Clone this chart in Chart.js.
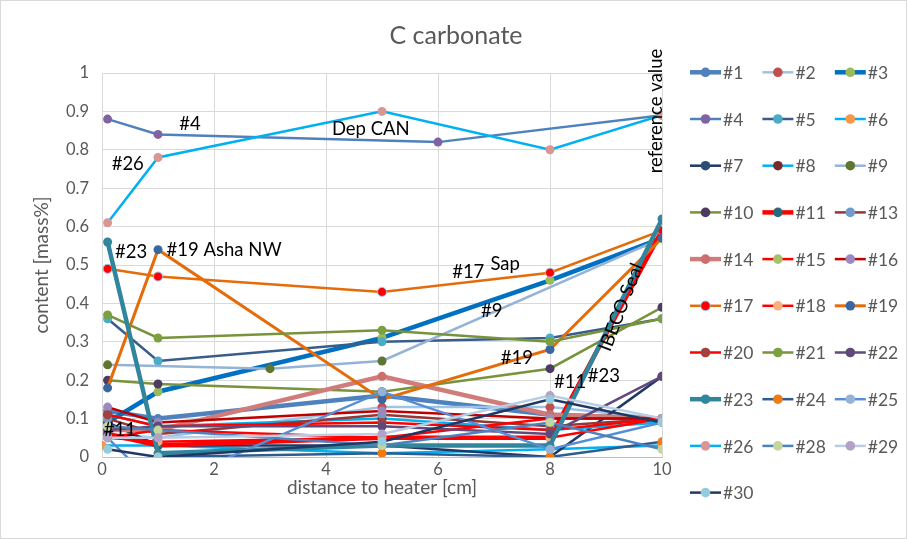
<!DOCTYPE html>
<html>
<head>
<meta charset="utf-8">
<title>C carbonate</title>
<script src="https://cdn.jsdelivr.net/npm/chart.js@4.4.1/dist/chart.umd.min.js"></script>
<style>
  html, body { margin: 0; padding: 0; background: #ffffff; }
  canvas { display: block; }
</style>
</head>
<body>
<canvas id="chart" width="907" height="539"></canvas>
<script>
// Sampling distances from the heater [cm]
const positions = [0, 0.1, 1, 3, 5, 6, 8, 10];

// Carbonate content [mass%] per sample set, one value per position (null = not measured)
const s1  = [null, 0.12, 0.10, null, 0.16, null, 0.11, 0.10];
const s2  = [null, 0.06, 0.05, null, 0.13, null, 0.13, 0.10];
const s3  = [null, 0.09, 0.17, null, 0.31, null, 0.46, 0.57];
const s4  = [null, 0.88, 0.84, null, null, 0.82, null, 0.89];
const s5  = [null, 0.36, 0.25, null, 0.30, null, 0.31, 0.36];
const s6  = [0.03, null, 0.03, null, 0.01, null, 0.02, 0.03];
const s7  = [null, 0.09, 0.03, null, 0.03, null, 0.00, 0.21];
const s8  = [null, 0.11, 0.08, null, 0.10, null, 0.07, 0.09];
const s9  = [null, 0.24, null, 0.23, 0.25, null, null, 0.57];
const s10 = [null, 0.20, 0.19, null, 0.17, null, 0.23, 0.39];
const s11 = [null, 0.06, 0.03, null, 0.05, null, 0.05, 0.59];
const s13 = [null, 0.10, 0.06, null, 0.11, null, 0.08, 0.10];
const s14 = [null, 0.07, 0.07, null, 0.21, null, 0.11, 0.10];
const s15 = [null, 0.05, 0.07, null, 0.05, null, 0.10, 0.10];
const s16 = [null, 0.13, 0.09, null, 0.12, null, 0.10, 0.10];
const s17 = [null, 0.49, 0.47, null, 0.43, null, 0.48, 0.59];
const s18 = [null, 0.05, 0.04, null, 0.05, null, 0.05, 0.10];
const s19 = [null, 0.18, 0.54, null, 0.15, null, 0.28, 0.57];
const s20 = [null, 0.11, 0.08, null, 0.09, null, 0.07, 0.10];
const s21 = [null, 0.37, 0.31, null, 0.33, null, 0.30, 0.36];
const s22 = [null, 0.07, 0.08, null, 0.08, null, 0.06, 0.21];
const s23 = [null, 0.56, 0.01, null, 0.03, null, 0.03, 0.62];
const s24 = [null, null, 0.00, null, 0.01, null, 0.00, 0.04];
const s25 = [null, 0.05, -0.08, null, 0.17, null, 0.02, 0.09];
const s26 = [null, 0.61, 0.78, null, 0.90, null, 0.80, 0.89];
const s28 = [null, 0.08, 0.07, null, 0.03, null, 0.09, 0.02];
const s29 = [null, 0.05, 0.05, null, 0.06, null, 0.16, 0.10];
const s30 = [null, 0.02, 0.00, null, 0.04, null, 0.15, 0.09];

const seriesNames = ['#1','#2','#3','#4','#5','#6','#7','#8','#9','#10','#11','#13','#14','#15',
  '#16','#17','#18','#19','#20','#21','#22','#23','#24','#25','#26','#28','#29','#30'];
const seriesValues = [s1,s2,s3,s4,s5,s6,s7,s8,s9,s10,s11,s13,s14,s15,
  s16,s17,s18,s19,s20,s21,s22,s23,s24,s25,s26,s28,s29,s30];

// Line colour, marker colour, line width (and optional marker outline)
const styles = [
  { line: '#4F81BD', mark: '#4F81BD', w: 4.5 },
  { line: '#9DC3E6', mark: '#C0504D', w: 2.5 },
  { line: '#0070C0', mark: '#9BBB59', w: 4.5 },
  { line: '#4F81BD', mark: '#8064A2', w: 2.5 },
  { line: '#385D8A', mark: '#4BACC6', w: 2.5 },
  { line: '#00B0F0', mark: '#F79646', w: 2.5 },
  { line: '#1F3864', mark: '#2C4D75', w: 2.5 },
  { line: '#00B0F0', mark: '#772C2A', w: 2.5 },
  { line: '#95B3D7', mark: '#5F7530', w: 2.5 },
  { line: '#77933C', mark: '#4D3B62', w: 2.5 },
  { line: '#FF0000', mark: '#276A7C', w: 4.5 },
  { line: '#953735', mark: '#729ACA', w: 2.5 },
  { line: '#D07C7A', mark: '#CD6F6C', w: 4.5 },
  { line: '#FF0000', mark: '#A5C26A', w: 2.5 },
  { line: '#C00000', mark: '#9B89C0', w: 2.5 },
  { line: '#E46C0A', mark: '#FF0000', w: 2.5, edge: '#9DC3E6' },
  { line: '#FF0000', mark: '#FAB07A', w: 2.5 },
  { line: '#E46C0A', mark: '#3A67A0', w: 3 },
  { line: '#FF0000', mark: '#A5403C', w: 2.5 },
  { line: '#77933C', mark: '#7AA03F', w: 2.5 },
  { line: '#604A7B', mark: '#5F497A', w: 2.5 },
  { line: '#31859C', mark: '#31859C', w: 4.5 },
  { line: '#2F5C8F', mark: '#F27A12', w: 2.5 },
  { line: '#558ED5', mark: '#95B3D7', w: 2.5 },
  { line: '#00B0F0', mark: '#DA9694', w: 2.5 },
  { line: '#4F81BD', mark: '#C3D69B', w: 2.5 },
  { line: '#B9CDE5', mark: '#B3A2C7', w: 2.5 },
  { line: '#1F3864', mark: '#93CDDD', w: 2.5 }
];

// Free text placed inside the plot (data coordinates)
const notes = [
  { text: '#4', x: 1.57, y: 0.867 },
  { text: 'Dep CAN', x: 4.80, y: 0.854 },
  { text: '#26', x: 0.46, y: 0.763 },
  { text: '#23', x: 0.52, y: 0.534 },
  { text: '#19 Asha NW', x: 2.18, y: 0.539 },
  { text: '#17', x: 6.54, y: 0.482 },
  { text: 'Sap', x: 7.20, y: 0.503 },
  { text: '#9', x: 6.96, y: 0.380 },
  { text: '#19', x: 7.41, y: 0.258 },
  { text: '#11', x: 8.36, y: 0.195 },
  { text: '#23', x: 8.96, y: 0.211 },
  { text: '#11', x: 0.32, y: 0.070 },
  { text: 'reference value', x: 9.89, y: 0.901, rot: -90 },
  { text: 'IBECO Seal', x: 9.27, y: 0.390, rot: -69 }
];

const FONT = 'Lato, "Open Sans", sans-serif';
const GREY = '#595959';

const datasets = seriesNames.map((name, i) => {
  const st = styles[i];
  const pts = [];
  seriesValues[i].forEach((v, k) => { if (v !== null) pts.push({ x: positions[k], y: v }); });
  return {
    label: name,
    data: pts,
    showLine: true,
    borderColor: st.line,
    borderWidth: st.w,
    backgroundColor: st.mark,
    pointBackgroundColor: st.mark,
    pointBorderColor: st.edge || st.mark,
    pointBorderWidth: st.edge ? 1 : 0,
    pointRadius: 4.5,
    pointHoverRadius: 4.5,
    order: seriesNames.length - i
  };
});

const frame = {
  id: 'frame',
  beforeDraw(chart) {
    const c = chart.ctx;
    c.save();
    c.fillStyle = '#ffffff';
    c.fillRect(0, 0, chart.width, chart.height);
    c.restore();
  },
  afterDraw(chart) {
    const c = chart.ctx;
    c.save();
    c.strokeStyle = '#D9D9D9';
    c.lineWidth = 1;
    c.strokeRect(0.5, 0.5, chart.width - 1, chart.height - 1);
    // chart title
    c.fillStyle = GREY;
    c.font = '25px ' + FONT;
    c.textAlign = 'center';
    c.textBaseline = 'middle';
    c.fillText('C carbonate', 456, 36);
    c.restore();
  }
};

const noteText = {
  id: 'noteText',
  afterDatasetsDraw(chart) {
    const c = chart.ctx, xs = chart.scales.x, ys = chart.scales.y;
    c.save();
    c.fillStyle = '#000000';
    c.font = '18.5px ' + FONT;
    c.textAlign = 'center';
    c.textBaseline = 'middle';
    notes.forEach(n => {
      c.save();
      c.translate(xs.getPixelForValue(n.x), ys.getPixelForValue(n.y));
      if (n.rot) c.rotate(n.rot * Math.PI / 180);
      c.fillText(n.text, 0, 0);
      c.restore();
    });
    c.restore();
  }
};

const sideLegend = {
  id: 'sideLegend',
  afterDraw(chart) {
    const c = chart.ctx;
    c.save();
    c.font = '17.5px ' + FONT;
    c.textBaseline = 'middle';
    c.textAlign = 'left';
    chart.data.datasets.forEach((ds, i) => {
      const row = Math.floor(i / 3), col = i % 3;
      const x0 = 690 + col * 72.4;
      const y = 72.3 + row * 46.7;
      c.strokeStyle = ds.borderColor;
      c.lineWidth = ds.borderWidth;
      c.beginPath();
      c.moveTo(x0, y);
      c.lineTo(x0 + 31, y);
      c.stroke();
      c.beginPath();
      c.arc(x0 + 15.5, y, 4.8, 0, Math.PI * 2);
      c.fillStyle = ds.pointBackgroundColor;
      c.fill();
      if (ds.pointBorderWidth) {
        c.lineWidth = 1;
        c.strokeStyle = ds.pointBorderColor;
        c.stroke();
      }
      c.fillStyle = GREY;
      c.fillText(ds.label, x0 + 33, y + 1);
    });
    c.restore();
  }
};

new Chart(document.getElementById('chart'), {
  type: 'scatter',
  data: { datasets },
  options: {
    responsive: false,
    animation: false,
    events: [],
    layout: { padding: { left: 0, top: 73, right: 245, bottom: 32 } },
    plugins: {
      legend: { display: false },
      title: { display: false },
      tooltip: { enabled: false }
    },
    scales: {
      x: {
        type: 'linear',
        min: 0, max: 10,
        afterFit(s) { s.height = 50; },
        ticks: { stepSize: 2, color: GREY, font: { family: FONT, size: 16.5 }, padding: 3 },
        grid: { color: '#D9D9D9', lineWidth: 1, drawTicks: false },
        border: { color: '#BFBFBF' },
        title: { display: true, text: 'distance to heater [cm]', color: GREY,
                 font: { family: FONT, size: 19 }, padding: { top: 0, bottom: 8 } }
      },
      y: {
        type: 'linear',
        min: 0, max: 1,
        afterFit(s) { s.width = 102; },
        ticks: { stepSize: 0.1, color: GREY, font: { family: FONT, size: 16.5 }, padding: 13,
                 callback: v => Math.round(v * 10) / 10 },
        grid: { color: '#D9D9D9', lineWidth: 1, drawTicks: false },
        border: { color: '#D9D9D9' },
        title: { display: true, text: 'content [mass%]', color: GREY,
                 font: { family: FONT, size: 19 }, padding: { top: 30, bottom: 0 } }
      }
    }
  },
  plugins: [frame, noteText, sideLegend]
});
</script>
</body>
</html>
